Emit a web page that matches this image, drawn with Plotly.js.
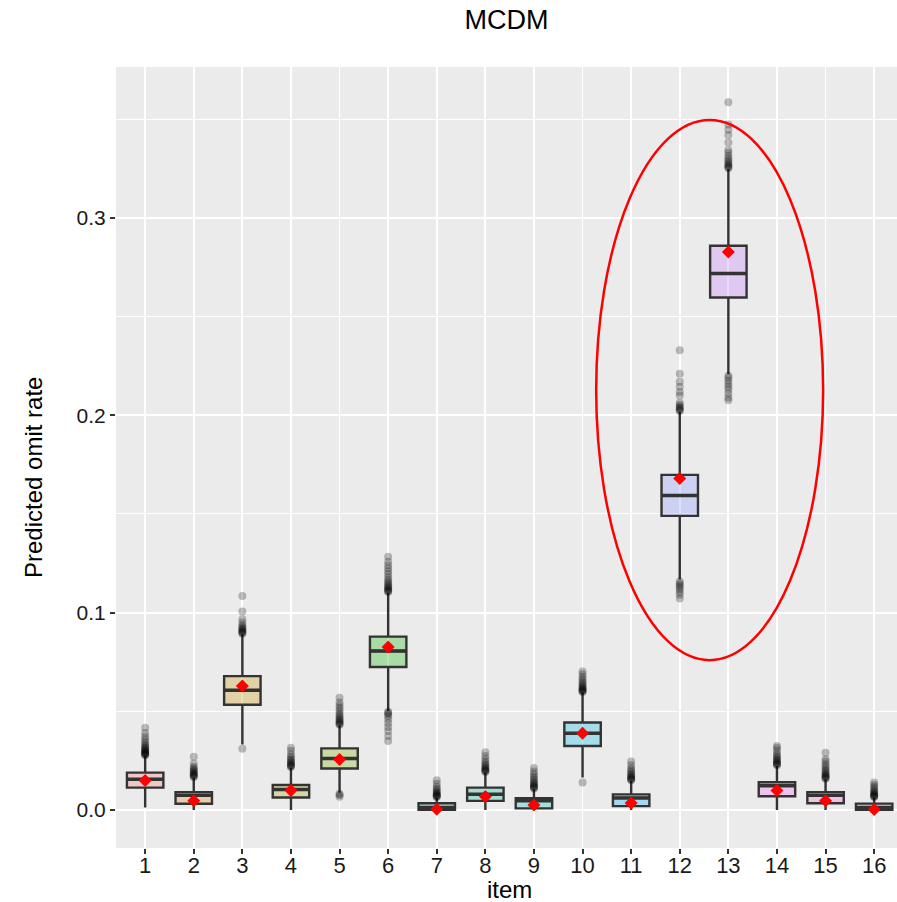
<!DOCTYPE html>
<html>
<head>
<meta charset="utf-8">
<script src="https://cdn.plot.ly/plotly-3.0.1.min.js"></script>
<style>html,body{margin:0;padding:0;background:#fff;}#chart{width:897px;height:902px;}</style>
</head>
<body>
<div id="chart"></div>
<script>
// ---- data ----
const items = ['1','2','3','4','5','6','7','8','9','10','11','12','13','14','15','16'];
const q1     = [0.0113,0.0031,0.0533,0.0063,0.0210,0.0724,0.0000,0.0046,0.0008,0.0324,0.0019,0.1490,0.2597,0.0069,0.0034,0.0000];
const median = [0.0155,0.0074,0.0606,0.0104,0.0261,0.0805,0.0012,0.0079,0.0047,0.0389,0.0061,0.1593,0.2718,0.0122,0.0074,0.0012];
const q3     = [0.0189,0.0090,0.0678,0.0126,0.0312,0.0878,0.0034,0.0113,0.0059,0.0443,0.0079,0.1698,0.2859,0.0140,0.0090,0.0032];
const lowerWhisker = [0.0012,0.0000,0.0332,0.0000,0.0087,0.0501,0.0000,0.0000,0.0000,0.0164,0.0000,0.1168,0.2208,0.0000,0.0000,0.0000];
const upperWhisker = [0.0274,0.0163,0.0890,0.0214,0.0428,0.1100,0.0062,0.0189,0.0105,0.0595,0.0147,0.2018,0.3248,0.0223,0.0155,0.0062];
const means  = [0.0149,0.0047,0.0628,0.0099,0.0256,0.0826,0.0003,0.0068,0.0025,0.0389,0.0035,0.1680,0.2828,0.0098,0.0047,0.0002];

const out1  = [0.0277,0.0280,0.0283,0.0286,0.0289,0.0292,0.0296,0.0300,0.0304,0.0309,0.0314,0.0320,0.0327,0.0335,0.0345,0.0358,0.0372,0.0390,0.0417];
const out2  = [0.0166,0.0170,0.0174,0.0178,0.0182,0.0187,0.0192,0.0198,0.0204,0.0211,0.0219,0.0235,0.0270];
const out3  = [0.0310,0.0893,0.0897,0.0901,0.0905,0.0910,0.0915,0.0921,0.0928,0.0936,0.0950,0.0966,0.1005,0.1084];
const out4  = [0.0217,0.0221,0.0225,0.0229,0.0234,0.0240,0.0246,0.0253,0.0261,0.0270,0.0282,0.0300,0.0315];
const out5  = [0.0067,0.0075,0.0082,0.0432,0.0436,0.0441,0.0446,0.0452,0.0458,0.0465,0.0473,0.0482,0.0492,0.0505,0.0518,0.0530,0.0545,0.0569];
const out6  = [0.0349,0.0375,0.0400,0.0420,0.0440,0.0460,0.0475,0.0485,0.0492,0.0497,0.1104,0.1108,0.1112,0.1117,0.1122,0.1128,0.1134,0.1141,0.1149,0.1158,0.1168,0.1180,0.1195,0.1210,0.1225,0.1240,0.1258,0.1283];
const out7  = [0.0065,0.0068,0.0071,0.0074,0.0078,0.0082,0.0087,0.0093,0.0100,0.0108,0.0118,0.0132,0.0150];
const out8  = [0.0192,0.0196,0.0200,0.0204,0.0209,0.0214,0.0220,0.0227,0.0235,0.0245,0.0258,0.0273,0.0292];
const out9  = [0.0108,0.0112,0.0116,0.0120,0.0125,0.0130,0.0136,0.0143,0.0151,0.0160,0.0170,0.0182,0.0195,0.0212];
const out10 = [0.0139,0.0598,0.0601,0.0604,0.0608,0.0612,0.0617,0.0622,0.0628,0.0635,0.0643,0.0652,0.0662,0.0673,0.0688,0.0702];
const out11 = [0.0150,0.0154,0.0158,0.0162,0.0167,0.0172,0.0178,0.0185,0.0193,0.0202,0.0213,0.0228,0.0246];
const out12 = [0.1072,0.1090,0.1105,0.1118,0.1128,0.1138,0.1148,0.1158,0.2022,0.2027,0.2032,0.2038,0.2045,0.2053,0.2063,0.2100,0.2118,0.2145,0.2170,0.2210,0.2329];
const out13 = [0.2076,0.2090,0.2110,0.2130,0.2145,0.2160,0.2175,0.2190,0.2200,0.3252,0.3257,0.3262,0.3268,0.3275,0.3283,0.3292,0.3302,0.3315,0.3330,0.3345,0.3383,0.3420,0.3447,0.3474,0.3586];
const out14 = [0.0226,0.0230,0.0234,0.0238,0.0243,0.0248,0.0254,0.0261,0.0268,0.0276,0.0286,0.0300,0.0314,0.0324];
const out15 = [0.0158,0.0162,0.0166,0.0170,0.0175,0.0180,0.0186,0.0193,0.0201,0.0210,0.0220,0.0232,0.0245,0.0257,0.0290];
const out16 = [0.0065,0.0068,0.0071,0.0074,0.0078,0.0082,0.0087,0.0093,0.0100,0.0108,0.0118,0.0128,0.0139];
const outliers = [out1,out2,out3,out4,out5,out6,out7,out8,out9,out10,out11,out12,out13,out14,out15,out16];

const hueColors = ['#F8766D','#E68613','#CD9600','#ABA300','#7CAE00','#0CB702','#00BE67','#00C19A',
                   '#00BFC4','#00B8E7','#00A9FF','#8494FF','#C77CFF','#ED68ED','#FF61CC','#FF68A1'];

// ---- build traces ----
function rgba(hex, a){
  const r=parseInt(hex.slice(1,3),16), g=parseInt(hex.slice(3,5),16), b=parseInt(hex.slice(5,7),16);
  return 'rgba('+r+','+g+','+b+','+a+')';
}
const pos = items.map((_,i)=>i+1);
const BOXW = 0.75;
const traces = [];

// outliers
const ox=[], oy=[];
outliers.forEach((arr,i)=>arr.forEach(v=>{ox.push(pos[i]); oy.push(v);}));
traces.push({type:'scatter', mode:'markers', x:ox, y:oy, hoverinfo:'skip', showlegend:false,
  marker:{color:'rgba(0,0,0,0.25)', size:8, line:{width:0}}});

// boxes
items.forEach((it,i)=>{
  traces.push({type:'box', name:it, x:[pos[i]], q1:[q1[i]], median:[median[i]], q3:[q3[i]],
    lowerfence:[lowerWhisker[i]], upperfence:[upperWhisker[i]], boxpoints:false,
    width:BOXW, whiskerwidth:0, fillcolor:rgba(hueColors[i],0.3),
    line:{color:'#333333', width:2.4}, hoverinfo:'skip', showlegend:false});
});

// thick median lines
const mx=[], my=[];
items.forEach((_,i)=>{ mx.push(pos[i]-BOXW/2, pos[i]+BOXW/2, null); my.push(median[i], median[i], null); });
traces.push({type:'scatter', mode:'lines', x:mx, y:my, hoverinfo:'skip', showlegend:false,
  line:{color:'#333333', width:3.5}});

// means
traces.push({type:'scatter', mode:'markers', x:pos, y:means, hoverinfo:'skip', showlegend:false,
  marker:{symbol:'diamond', color:'#FF0000', size:10, line:{width:0}}});

const FONT = '"Liberation Sans", Arial, Helvetica, sans-serif';
const layout = {
  width:897, height:902,
  margin:{l:116, r:0, t:67, b:54},
  paper_bgcolor:'#FFFFFF', plot_bgcolor:'#EBEBEB',
  font:{family:FONT, color:'#000000'},
  showlegend:false, boxmode:'overlay',
  title:{text:'MCDM', font:{family:FONT, size:27, color:'#000000'}, x:0.5, xref:'paper', xanchor:'center', y:0.978, yref:'container', yanchor:'middle'},
  xaxis:{range:[0.4,16.47], tickvals:pos, ticktext:items, ticks:'outside', ticklen:5, tickwidth:2, tickcolor:'#333333',
    ticklabelstandoff:-7,
    showgrid:true, gridcolor:'#FFFFFF', gridwidth:1.8, zeroline:false, showline:false,
    tickfont:{family:FONT, size:22, color:'#1A1A1A'}},
  yaxis:{range:[-0.0193,0.3765], tickvals:[0,0.1,0.2,0.3], ticktext:['0.0','0.1','0.2','0.3'],
    ticks:'outside', ticklen:5, tickwidth:2, tickcolor:'#333333',
    showgrid:true, gridcolor:'#FFFFFF', gridwidth:2, zeroline:false, showline:false,
    minor:{tickvals:[0.05,0.15,0.25,0.35], showgrid:true, gridcolor:'#FFFFFF', gridwidth:1, ticks:''},
    tickfont:{family:FONT, size:21, color:'#1A1A1A'}},
  annotations:[
    {text:'item', xref:'paper', yref:'paper', x:(509-116)/781, y:-(889-848)/781, xanchor:'center', yanchor:'middle',
     showarrow:false, font:{family:FONT, size:24, color:'#000000'}},
    {text:'Predicted omit rate', xref:'paper', yref:'paper', x:-(116-33)/781, y:(848-478)/781, xanchor:'center', yanchor:'middle',
     textangle:-90, showarrow:false, font:{family:FONT, size:24, color:'#000000'}}
  ],
  shapes:[{type:'circle', xref:'x', yref:'y', x0:10.28, x1:14.95, y0:0.0759, y1:0.3497,
    line:{color:'#FF0000', width:2.5}, fillcolor:'rgba(0,0,0,0)'}]
};

Plotly.newPlot('chart', traces, layout, {staticPlot:true, displayModeBar:false});
</script>
</body>
</html>
